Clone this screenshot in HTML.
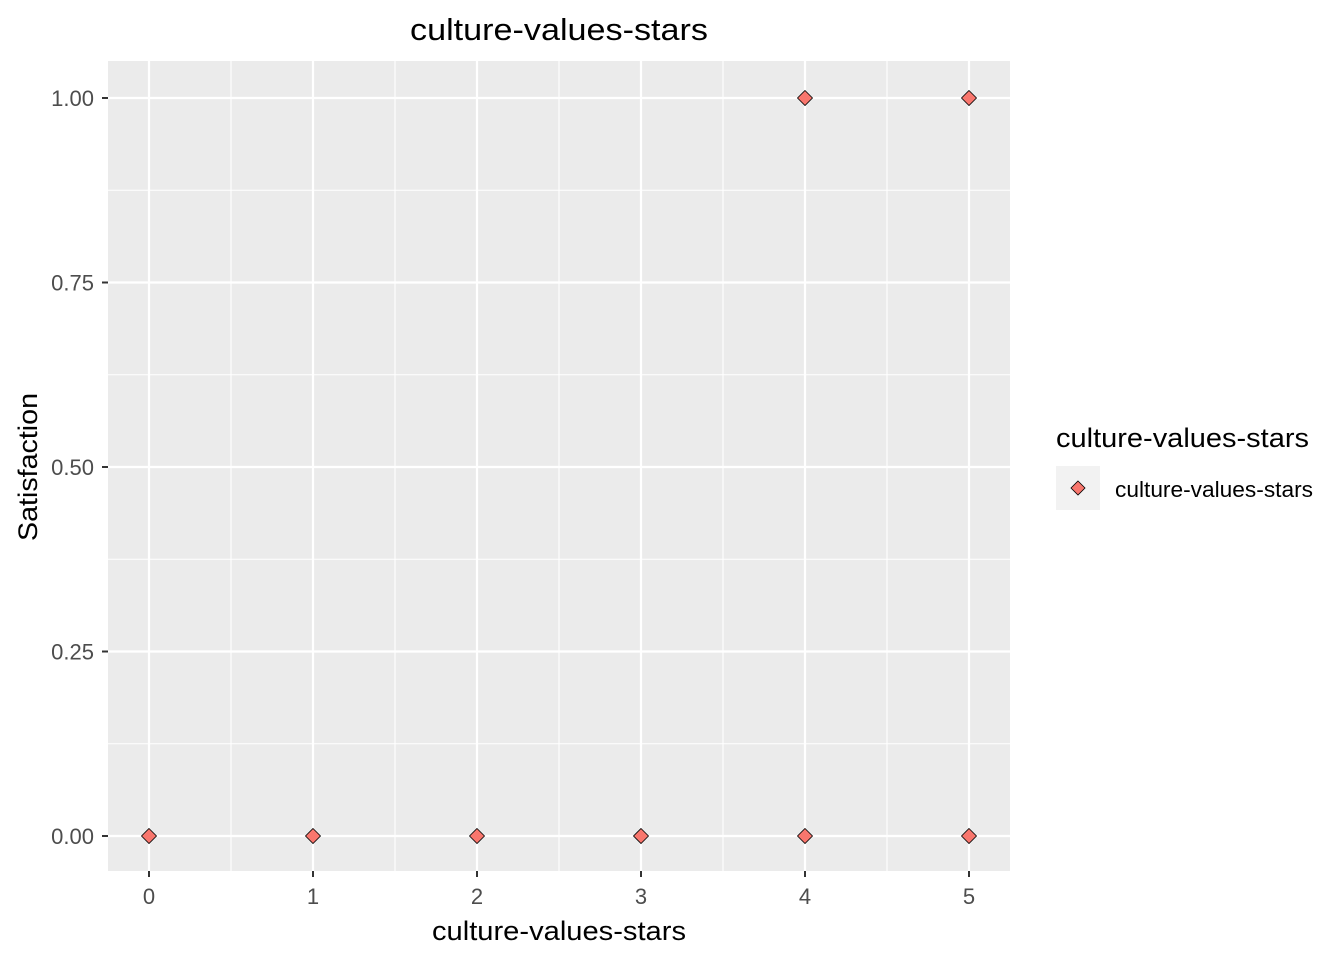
<!DOCTYPE html>
<html><head><meta charset="utf-8"><style>
body{margin:0;background:#fff;font-family:"Liberation Sans",Arial,sans-serif;}
</style></head><body>
<svg width="1344" height="960" xmlns="http://www.w3.org/2000/svg">
<text x="559" y="40" text-anchor="middle" font-size="31" textLength="298" lengthAdjust="spacingAndGlyphs" fill="#000">culture-values-stars</text>
<rect x="108" y="61" width="902" height="810" fill="#EBEBEB"/>
<g id="grid"></g>
<g id="points"></g>
<g id="axes"></g>
<text x="559" y="940" text-anchor="middle" font-size="27" textLength="254" lengthAdjust="spacingAndGlyphs" fill="#000">culture-values-stars</text>
<text transform="translate(37,467) rotate(-90)" text-anchor="middle" font-size="27" textLength="148" lengthAdjust="spacingAndGlyphs" fill="#000">Satisfaction</text>
<g>
<text x="1056" y="447" font-size="27" textLength="253" lengthAdjust="spacingAndGlyphs" fill="#000">culture-values-stars</text>
<rect x="1056" y="466" width="44" height="44" fill="#F2F2F2"/>
<polygon points="1078,481 1085,488 1078,495 1071,488" fill="#F8766D" stroke="#000" stroke-width="0.8"/>
<text x="1115" y="497" font-size="22" textLength="198" lengthAdjust="spacingAndGlyphs" fill="#000">culture-values-stars</text>
</g>
</svg>
<script>
const xValues=[0,1,2,3,4,4,5,5];
const yValues=[0,0,0,0,0,1,0,1];
const xTicks=[0,1,2,3,4,5];
const yTicks=[0,0.25,0.5,0.75,1];
const yTickLabels=["0.00","0.25","0.50","0.75","1.00"];
const NS="http://www.w3.org/2000/svg";
const sx=v=>149+v*164, sy=v=>836-v*738;
const grid=document.getElementById('grid'),pts=document.getElementById('points'),axes=document.getElementById('axes');
function mk(tag,attrs,parent){const e=document.createElementNS(NS,tag);for(const k in attrs)e.setAttribute(k,attrs[k]);parent.appendChild(e);return e;}
for(let i=0;i<xTicks.length-1;i++){const m=sx((xTicks[i]+xTicks[i+1])/2);
const l=mk('line',{x1:m,x2:m,y1:61,y2:871,stroke:'#fff','stroke-width':1.1},grid);

}
for(let i=0;i<yTicks.length-1;i++){const m=sy((yTicks[i]+yTicks[i+1])/2);
const l=mk('line',{x1:108,x2:1010,y1:m,y2:m,stroke:'#fff','stroke-width':1.1},grid);

}
xTicks.forEach(t=>{const x=sx(t);
const l=mk('line',{x1:x,x2:x,y1:61,y2:871,stroke:'#fff','stroke-width':2.2},grid);


const tk=mk('line',{x1:x,x2:x,y1:871,y2:877,stroke:'#333','stroke-width':2},axes);


const tx=mk('text',{x:x,y:904,'text-anchor':'middle','font-size':22,fill:'#4D4D4D'},axes);tx.textContent=t;

});
yTicks.forEach((t,i)=>{const y=sy(t);
const l=mk('line',{x1:108,x2:1010,y1:y,y2:y,stroke:'#fff','stroke-width':2.2},grid);


const tk=mk('line',{x1:102,x2:108,y1:y,y2:y,stroke:'#333','stroke-width':2},axes);


const tx=mk('text',{x:94,y:y+8,'text-anchor':'end','font-size':22,fill:'#4D4D4D'},axes);tx.textContent=yTickLabels[i];

});
xValues.forEach((v,i)=>{const x=sx(v),y=sy(yValues[i]);
const p=mk('polygon',{points:`${x},${y-7.5} ${x+7.5},${y} ${x},${y+7.5} ${x-7.5},${y}`,fill:'#F8766D',stroke:'#000','stroke-width':0.8},pts);

});
</script>
</body></html>
